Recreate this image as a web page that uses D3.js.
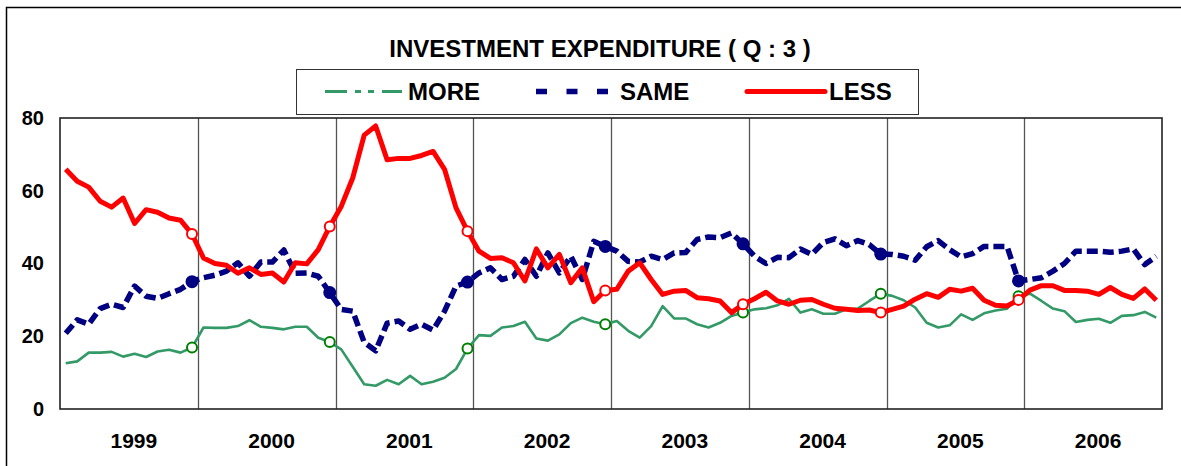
<!DOCTYPE html>
<html>
<head>
    <title>Investment expenditure</title>
    <script src="https://d3js.org/d3.v7.min.js"></script>
    <style>
        body { margin: 0; background: #fff; }
        text { font-family: "Liberation Sans", Arial, sans-serif; font-weight: bold; fill: #000; }
    </style>
</head>
<body>
<script>
    // data: one value per month, 1999-2006
    var years = [1999, 2000, 2001, 2002, 2003, 2004, 2005, 2006];
    var yTicks = [0, 20, 40, 60, 80];
    var seriesNames = ["MORE", "SAME", "LESS"];

    var more = [
        12.6, 13.1, 15.5, 15.5, 15.7, 14.4, 15.2, 14.3, 15.8, 16.3, 15.5, 16.9,
        22.4, 22.3, 22.3, 22.8, 24.4, 22.6, 22.3, 21.9, 22.6, 22.6, 19.6, 18.4,
        16.4, 11.6, 6.8, 6.4, 8.0, 6.8, 9.1, 6.8, 7.5, 8.6, 11.0, 16.6,
        20.3, 20.1, 22.4, 22.8, 24.0, 19.4, 18.8, 20.5, 23.6, 25.1, 24.0, 23.3,
        24.2, 21.5, 19.6, 22.8, 28.3, 24.9, 24.9, 23.3, 22.4, 23.7, 25.6, 26.5,
        27.4, 27.7, 28.5, 30.3, 26.5, 27.4, 26.2, 26.2, 27.4, 27.6, 29.7, 31.7,
        31.1, 29.9, 27.9, 23.7, 22.4, 23.0, 26.0, 24.5, 26.3, 27.1, 27.6, 31.0,
        31.7, 29.7, 27.6, 26.9, 23.9, 24.5, 24.8, 23.7, 25.6, 25.8, 26.7, 25.1
    ];
    var same = [
        20.8, 24.5, 23.3, 27.6, 28.8, 27.9, 33.8, 31.0, 30.4, 31.7, 32.9, 35.0,
        36.1, 36.8, 37.9, 40.2, 36.5, 40.4, 40.4, 43.7, 37.3, 37.4, 36.5, 32.0,
        27.4, 26.9, 18.3, 16.0, 23.6, 24.2, 21.9, 23.3, 21.7, 26.9, 33.8, 34.9,
        37.4, 38.8, 35.6, 36.5, 41.1, 36.5, 42.9, 37.4, 42.0, 35.6, 46.1, 44.7,
        43.4, 40.6, 40.4, 42.0, 41.1, 42.9, 43.0, 46.6, 47.3, 47.1, 48.4, 45.4,
        42.0, 40.0, 41.7, 41.6, 44.0, 42.5, 45.8, 46.8, 44.9, 46.3, 45.2, 42.6,
        42.5, 42.0, 40.9, 44.6, 46.3, 43.8, 41.8, 42.7, 44.7, 44.7, 44.7, 35.2,
        35.6, 36.1, 37.9, 40.0, 43.4, 43.4, 43.4, 43.1, 43.4, 44.0, 39.7, 42.0
    ];
    var less = [
        65.9, 62.6, 61.0, 57.1, 55.5, 58.0, 51.0, 54.8, 54.1, 52.5, 51.9, 48.1,
        41.5, 40.0, 39.5, 37.3, 38.8, 37.0, 37.4, 34.9, 40.2, 39.9, 43.8, 50.2,
        55.7, 63.5, 75.3, 77.8, 68.5, 68.9, 68.9, 69.7, 70.8, 65.9, 55.3, 48.9,
        43.4, 41.4, 41.6, 40.2, 35.2, 44.0, 38.8, 42.5, 34.7, 38.8, 29.5, 32.6,
        32.9, 37.9, 40.2, 35.6, 31.5, 32.4, 32.6, 30.6, 30.3, 29.7, 26.5, 28.8,
        30.3, 32.1, 29.7, 28.8, 29.9, 30.1, 28.8, 27.7, 27.4, 27.1, 27.2, 26.5,
        27.4, 28.3, 30.2, 31.7, 30.7, 32.9, 32.4, 33.2, 29.9, 28.5, 28.3, 30.0,
        32.7, 33.9, 33.9, 32.6, 32.6, 32.4, 31.5, 33.4, 31.5, 30.4, 33.0, 29.9
    ];

    var w = 1181, h = 466;
    var plotLeft = 60, plotRight = 1162, plotTop = 118, plotBottom = 409;
    var nMonths = years.length * 12;

    var svg = d3.select("body").append("svg")
        .attr("width", w)
        .attr("height", h);

    // outer chart frame (only top and left edges are in view)
    svg.append("rect")
        .attr("x", 6.5).attr("y", 7.5)
        .attr("width", 1300).attr("height", 600)
        .attr("fill", "none").attr("stroke", "#000").attr("stroke-width", 1.5);

    var x = d3.scaleLinear().domain([0, nMonths]).range([plotLeft, plotRight]);
    var yearBand = d3.scaleBand().domain(years).range([plotLeft, plotRight]);
    var y = d3.scaleLinear().domain([0, 80]).range([plotBottom, plotTop]);

    // year separators
    svg.selectAll("line.sep")
        .data(years.slice(1))
        .enter().append("line")
        .attr("class", "sep")
        .attr("x1", function(d) { return Math.round(yearBand(d)) + 0.5; })
        .attr("x2", function(d) { return Math.round(yearBand(d)) + 0.5; })
        .attr("y1", plotTop).attr("y2", plotBottom)
        .attr("stroke", "#555").attr("stroke-width", 1.3);

    // plot border
    svg.append("rect")
        .attr("x", plotLeft).attr("y", plotTop)
        .attr("width", plotRight - plotLeft).attr("height", plotBottom - plotTop)
        .attr("fill", "none").attr("stroke", "#222").attr("stroke-width", 1.6);

    // y axis labels
    var yAxis = svg.append("g")
        .attr("transform", "translate(" + plotLeft + ",0)")
        .call(d3.axisLeft(y).tickValues(yTicks).tickSize(0).tickPadding(16));
    yAxis.select(".domain").remove();
    yAxis.selectAll("text")
        .style("font-family", "'Liberation Sans', Arial, sans-serif")
        .style("font-weight", "bold")
        .style("font-size", "20px")
        .attr("fill", "#000");

    // x axis: year labels
    var xAxis = svg.append("g")
        .attr("transform", "translate(5," + plotBottom + ")")
        .call(d3.axisBottom(yearBand).tickSize(0).tickPadding(24));
    xAxis.select(".domain").remove();
    xAxis.selectAll("text")
        .style("font-family", "'Liberation Sans', Arial, sans-serif")
        .style("font-weight", "bold")
        .style("font-size", "21px")
        .attr("fill", "#000");

    var line = d3.line()
        .x(function(d, i) { return x(i + 0.5); })
        .y(function(d) { return y(d); });

    var styles = {
        MORE: { values: more, color: "#339966", width: 2.6, dash: null,
                marker: "#008000", fill: "#fff", r: 5 },
        SAME: { values: same, color: "#000080", width: 5.5, dash: "11,5",
                marker: "#000080", fill: "#000080", r: 5.5 },
        LESS: { values: less, color: "#ff0000", width: 5, dash: null,
                marker: "#ff0000", fill: "#fff", r: 5 }
    };

    seriesNames.forEach(function(name) {
        var s = styles[name];
        svg.append("path")
            .datum(s.values)
            .attr("d", line)
            .attr("fill", "none")
            .attr("stroke", s.color)
            .attr("stroke-width", s.width)
            .attr("stroke-linejoin", "round")
            .attr("stroke-dasharray", s.dash);

        // year-end markers
        var pts = s.values.map(function(v, i) { return { i: i, v: v }; })
            .filter(function(p) { return p.i % 12 === 11 && p.i < nMonths - 1; });
        svg.selectAll("circle." + name)
            .data(pts)
            .enter().append("circle")
            .attr("class", name)
            .attr("cx", function(p) { return x(p.i + 0.5); })
            .attr("cy", function(p) { return y(p.v); })
            .attr("r", s.r)
            .attr("fill", s.fill)
            .attr("stroke", s.marker)
            .attr("stroke-width", 2);
    });

    // title
    svg.append("text")
        .attr("x", 600).attr("y", 57)
        .attr("text-anchor", "middle")
        .style("font-size", "24px")
        .text("INVESTMENT EXPENDITURE ( Q : 3 )");

    // legend
    svg.append("rect")
        .attr("x", 296.5).attr("y", 69.5)
        .attr("width", 622).attr("height", 45)
        .attr("fill", "#fff").attr("stroke", "#333").attr("stroke-width", 1);

    var legendItems = [
        { name: "MORE", x1: 325, x2: 402, tx: 408, dash: "22,8,6,7,6,8" },
        { name: "SAME", x1: 536, x2: 609, tx: 620, dash: "11,19.5" },
        { name: "LESS", x1: 747, x2: 825, tx: 829, dash: null }
    ];
    legendItems.forEach(function(it) {
        var s = styles[it.name];
        svg.append("line")
            .attr("x1", it.x1).attr("x2", it.x2)
            .attr("y1", 91.5).attr("y2", 91.5)
            .attr("stroke", s.color)
            .attr("stroke-width", it.name === "MORE" ? 3 : s.width)
            .attr("stroke-linecap", it.name === "LESS" ? "round" : "butt")
            .attr("stroke-dasharray", it.dash);
        svg.append("text")
            .attr("x", it.tx).attr("y", 100)
            .style("font-size", "24px")
            .text(it.name);
    });
</script>
</body>
</html>
